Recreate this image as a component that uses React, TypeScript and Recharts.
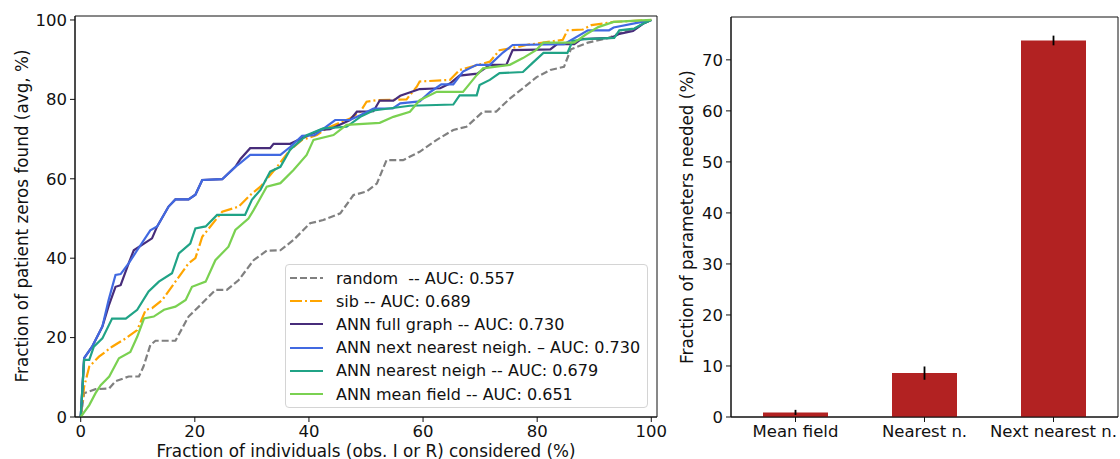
import { Bar, BarChart, CartesianGrid, ErrorBar, Line, LineChart, XAxis, YAxis } from "recharts"

const FONT = "'DejaVu Sans', Verdana, sans-serif"
const INK = "#111"

// left panel: curves as [x %, y %]
const randomPts: [number, number][] = [
  [0, 0], [0.6, 6], [2.6, 7], [5, 7.2], [6.1, 9], [8.4, 10.2], [10.2, 10.2], [11, 12.7],
  [12.2, 18.1], [13.1, 19.2], [16.6, 19.2], [18.9, 25.3], [20.7, 27.8], [23.6, 32], [25.6, 32],
  [27.7, 34.5], [30.3, 39.5], [32.6, 41.9], [35, 42], [37.3, 44.6], [40.2, 48.8], [42.5, 49.6],
  [45.5, 51.3], [47.8, 55.9], [50.1, 56.8], [51.9, 58.8], [53.6, 64.7], [56.5, 64.7], [59.4, 66.8],
  [62.4, 69.8], [65.3, 72.3], [67.6, 73.1], [70.5, 76.9], [72.8, 76.9], [75.2, 80.2], [77.5, 82.8],
  [79.9, 85.6], [82.3, 87.4], [84.7, 88.2], [85.9, 92.6], [88.9, 94.3], [92.5, 95.5], [94.9, 96.9],
  [97.3, 98], [98.6, 99.1], [100, 100],
]
const sibPts: [number, number][] = [
  [0, 0], [0.6, 7.6], [1.5, 12.7], [3.2, 15.2], [5.5, 17.7], [7.9, 19.8], [9.9, 21.9], [11.4, 27],
  [12.5, 27.4], [14.3, 29.5], [16.6, 34.1], [18.9, 38.7], [20.1, 40], [21.3, 45.4], [24.8, 51.7],
  [27.7, 53], [29.7, 55.9], [31.5, 58], [34.4, 63], [36.7, 67.3], [38.8, 69.8], [41.4, 71],
  [43.1, 72.7], [47.2, 75.2], [49, 76.9], [50.1, 79.4], [51.9, 79.8], [57.1, 80], [58.9, 83.2],
  [59.4, 84.5], [64.7, 84.9], [66.4, 87.4], [71.7, 89.5], [73.4, 92.4], [76.9, 93.3], [78.1, 93.7],
  [84.5, 95], [85.3, 97.4], [88, 97.6], [89.5, 98.7], [93.4, 99.5], [100, 100],
]
const fullGraphPts: [number, number][] = [
  [0, 0], [0.6, 14.8], [2, 17.7], [3.8, 22.8], [4.9, 28], [6.1, 32.8], [7, 33.2], [8.4, 38.7],
  [9.3, 42], [12.5, 45], [13.4, 48], [15.4, 53], [16.6, 54.8], [18.9, 54.8], [20.1, 56], [21.3, 59.7],
  [24.8, 59.9], [27.1, 63], [28, 65], [29.7, 67.7], [33.2, 67.7], [33.8, 68.8], [36.7, 68.8],
  [38.5, 70], [42, 72.3], [43.7, 72.5], [47.2, 74.8], [48.4, 76.9], [51.3, 77], [52.4, 79.7],
  [54.8, 79.7], [56, 80.9], [59.4, 82.6], [63, 82.8], [64.7, 84], [66.4, 86], [69.5, 86.5],
  [71.7, 88.7], [74.6, 88.7], [75.7, 92.4], [82.3, 92.6], [83.5, 93.9], [86.5, 93.9], [87.7, 95.2],
  [93, 95.5], [94.4, 96.5], [96.8, 97.2], [98.6, 99.1], [100, 100],
]
const nextNearestPts: [number, number][] = [
  [0, 0], [0.6, 14.8], [2, 17.7], [3.8, 22.8], [4.9, 29.5], [6.1, 35.8], [7, 36], [8.4, 38.7],
  [9.9, 42], [12.2, 47], [13.4, 48], [15.4, 53], [16.6, 54.8], [18.9, 54.8], [20.1, 56], [21.3, 59.7],
  [24.8, 59.9], [27.1, 63], [28, 64], [29.7, 66], [35, 66], [36.7, 68], [38.8, 70.8], [41, 71],
  [44.6, 74.8], [47.2, 74.8], [49, 76], [51.3, 77.7], [54.7, 77.7], [56, 79], [59.4, 79.5],
  [61.2, 81.8], [63.2, 83.8], [65.3, 83.8], [67, 87], [69.4, 88.7], [71.7, 88.7], [74, 91.8],
  [75.7, 93.7], [84.7, 93.9], [88.9, 97.4], [92.6, 97.4], [93.4, 98.1], [98.6, 99.6], [100, 100],
]
const nearestPts: [number, number][] = [
  [0, 0], [0.6, 14.4], [1.5, 14.4], [2.3, 17.7], [3.8, 19.8], [5.5, 24.8], [7.9, 24.8], [9.9, 27],
  [11.9, 31.6], [13.7, 34.1], [16, 36.2], [17.2, 41.2], [19.2, 43.7], [20.1, 47.5], [21.9, 48],
  [23.9, 50.9], [28.8, 50.9], [30, 54.7], [31.5, 57.2], [33.2, 61.8], [35, 63], [36.7, 67.3],
  [39.6, 71], [42.5, 72.7], [46.6, 73.1], [49, 75.6], [51.3, 77.2], [57.7, 78.4], [65.3, 78.7],
  [66.4, 81], [69.4, 81], [69.9, 83.6], [71.7, 84.9], [73.4, 86.6], [77.5, 86.9], [79.2, 89.2],
  [81.1, 91.7], [85.3, 91.7], [86.2, 94.7], [88.5, 95.2], [93.5, 95.5], [94.4, 97.4], [97, 97.8],
  [98.6, 99.1], [100, 100],
]
const meanFieldPts: [number, number][] = [
  [0, 0], [1.5, 3], [2.6, 6], [3.5, 8], [5, 10.2], [6.7, 14.8], [8.7, 16.4], [9.9, 20.2], [11.1, 24.8],
  [12.8, 25.3], [14.6, 27], [16.6, 27.8], [18.4, 29.5], [19.5, 32.8], [21.9, 34.1], [23.6, 39.5],
  [25.9, 42.9], [27.1, 47.1], [29.4, 50], [30.3, 52.1], [32.6, 58], [35, 58.9], [37.3, 62.2],
  [39.6, 66], [40.8, 69.8], [44.3, 71], [46.6, 73.6], [52.4, 74.1], [54.8, 75.6], [57.7, 76.9],
  [59.4, 79.8], [62.4, 81.9], [67, 81.9], [69.4, 86.1], [70.5, 87.8], [75.2, 88.7], [77.5, 90.4],
  [79.8, 92.4], [81.1, 94.3], [86.5, 94.3], [88.6, 96.4], [90.7, 98.2], [93.4, 99.5], [100, 100],
]

const percentTicks = [0, 20, 40, 60, 80, 100]

// right panel
const methods = ["Mean field", "Nearest n.", "Next nearest n."]
const paramFraction = [0.9, 8.6, 73.8]
const paramError = [0.5, 1.3, 0.95]
const paramTicks = [0, 10, 20, 30, 40, 50, 60, 70]

const series = [
  { name: "random  -- AUC: 0.557", pts: randomPts, color: "#808080", dash: "7 3" },
  { name: "sib -- AUC: 0.689", pts: sibPts, color: "#ffa500", dash: "12 3 2 3" },
  { name: "ANN full graph -- AUC: 0.730", pts: fullGraphPts, color: "#472c7a", dash: undefined },
  { name: "ANN next nearest neigh. \u2013 AUC: 0.730", pts: nextNearestPts, color: "#4169e1", dash: undefined },
  { name: "ANN nearest neigh -- AUC: 0.679", pts: nearestPts, color: "#20a386", dash: undefined },
  { name: "ANN mean field -- AUC: 0.651", pts: meanFieldPts, color: "#7ad151", dash: undefined },
]

const barData = methods.map((name, i) => ({ name, value: paramFraction[i], err: paramError[i] }))

const tickStyle = { fill: INK, fontSize: 16.5, fontFamily: FONT }

// closes the box on all four sides, like matplotlib spines
const frameRows = ({ offset }: any) => [offset.top, offset.top + offset.height]
const frameCols = ({ offset }: any) => [offset.left, offset.left + offset.width]

function VTitle({ text, tx, ty }: { text: string; tx: number; ty: number }) {
  return (
    <text x={tx} y={ty} transform={`rotate(-90 ${tx} ${ty})`} textAnchor="middle" dominantBaseline="central"
      fill={INK} fontSize={16.8} fontFamily={FONT}>
      {text}
    </text>
  )
}

function HTitle({ text, tx, ty }: { text: string; tx: number; ty: number }) {
  return (
    <text x={tx} y={ty} textAnchor="middle" fill={INK} fontSize={16.8} fontFamily={FONT}>
      {text}
    </text>
  )
}

function CurveLegend() {
  return (
    <div style={{
      position: "absolute", left: 285, top: 264,
      boxSizing: "border-box", width: 363, height: 144, background: "rgba(255,255,255,0.85)",
      border: "1px solid #d4d4d4", borderRadius: 4, paddingTop: 1.5, fontFamily: FONT, fontSize: 16, color: INK,
    }}>
      {series.map((s) => (
        <div key={s.name} style={{ display: "flex", alignItems: "center", height: 23.2, whiteSpace: "pre" }}>
          <svg width={33} height={10} style={{ marginLeft: 4, flex: "none" }}>
            <line x1={0} y1={5} x2={33} y2={5} stroke={s.color} strokeWidth={2.2} strokeDasharray={s.dash} />
          </svg>
          <span style={{ marginLeft: 13 }}>{s.name}</span>
        </div>
      ))}
    </div>
  )
}

export default function App() {
  return (
    <div style={{ position: "absolute", left: 0, top: 0, width: 1120, height: 459, background: "#fff" }}>
      <div style={{ position: "absolute", left: 0, top: 0, width: 670, height: 459 }}>
        <LineChart width={670} height={459} margin={{ top: 16, right: 13, bottom: 0, left: 0 }}>
          <CartesianGrid stroke={INK} strokeWidth={1} horizontalCoordinatesGenerator={frameRows}
            verticalCoordinatesGenerator={frameCols} />
          <XAxis dataKey="x" type="number" domain={[-1, 101]} allowDataOverflow ticks={percentTicks}
            height={42} tick={tickStyle} tickSize={5} tickMargin={3} stroke={INK}
            label={<HTitle text="Fraction of individuals (obs. I or R) considered (%)" tx={366} ty={457} />} />
          <YAxis type="number" domain={[0, 101]} allowDataOverflow ticks={percentTicks} width={75}
            tick={tickStyle} tickSize={5} tickMargin={3} stroke={INK}
            label={<VTitle text="Fraction of patient zeros found (avg, %)" tx={22} ty={216} />} />
          {series.map((s) => (
            <Line key={s.name} data={s.pts.map(([x, y]) => ({ x, y }))} dataKey="y" name={s.name}
              type="linear" stroke={s.color} strokeWidth={2.2} strokeDasharray={s.dash}
              dot={false} activeDot={false} isAnimationActive={false} />
          ))}
        </LineChart>
        <CurveLegend />
      </div>
      <div style={{ position: "absolute", left: 670, top: 0 }}>
        <BarChart width={450} height={459} data={barData} margin={{ top: 17, right: 2, bottom: 0, left: 0 }}>
          <CartesianGrid stroke={INK} strokeWidth={1} horizontalCoordinatesGenerator={frameRows}
            verticalCoordinatesGenerator={frameCols} />
          <XAxis dataKey="name" height={42} tick={tickStyle} tickSize={5} tickMargin={3} stroke={INK} />
          <YAxis type="number" domain={[0, 78.4]} allowDataOverflow ticks={paramTicks} width={61}
            tick={tickStyle} tickSize={5} tickMargin={3} stroke={INK}
            label={<VTitle text="Fraction of parameters needed (%)" tx={17} ty={217} />} />
          <Bar dataKey="value" fill="#b22222" barSize={65} isAnimationActive={false}>
            <ErrorBar dataKey="err" width={0} stroke="#000" strokeWidth={1.8} />
          </Bar>
        </BarChart>
      </div>
    </div>
  )
}
